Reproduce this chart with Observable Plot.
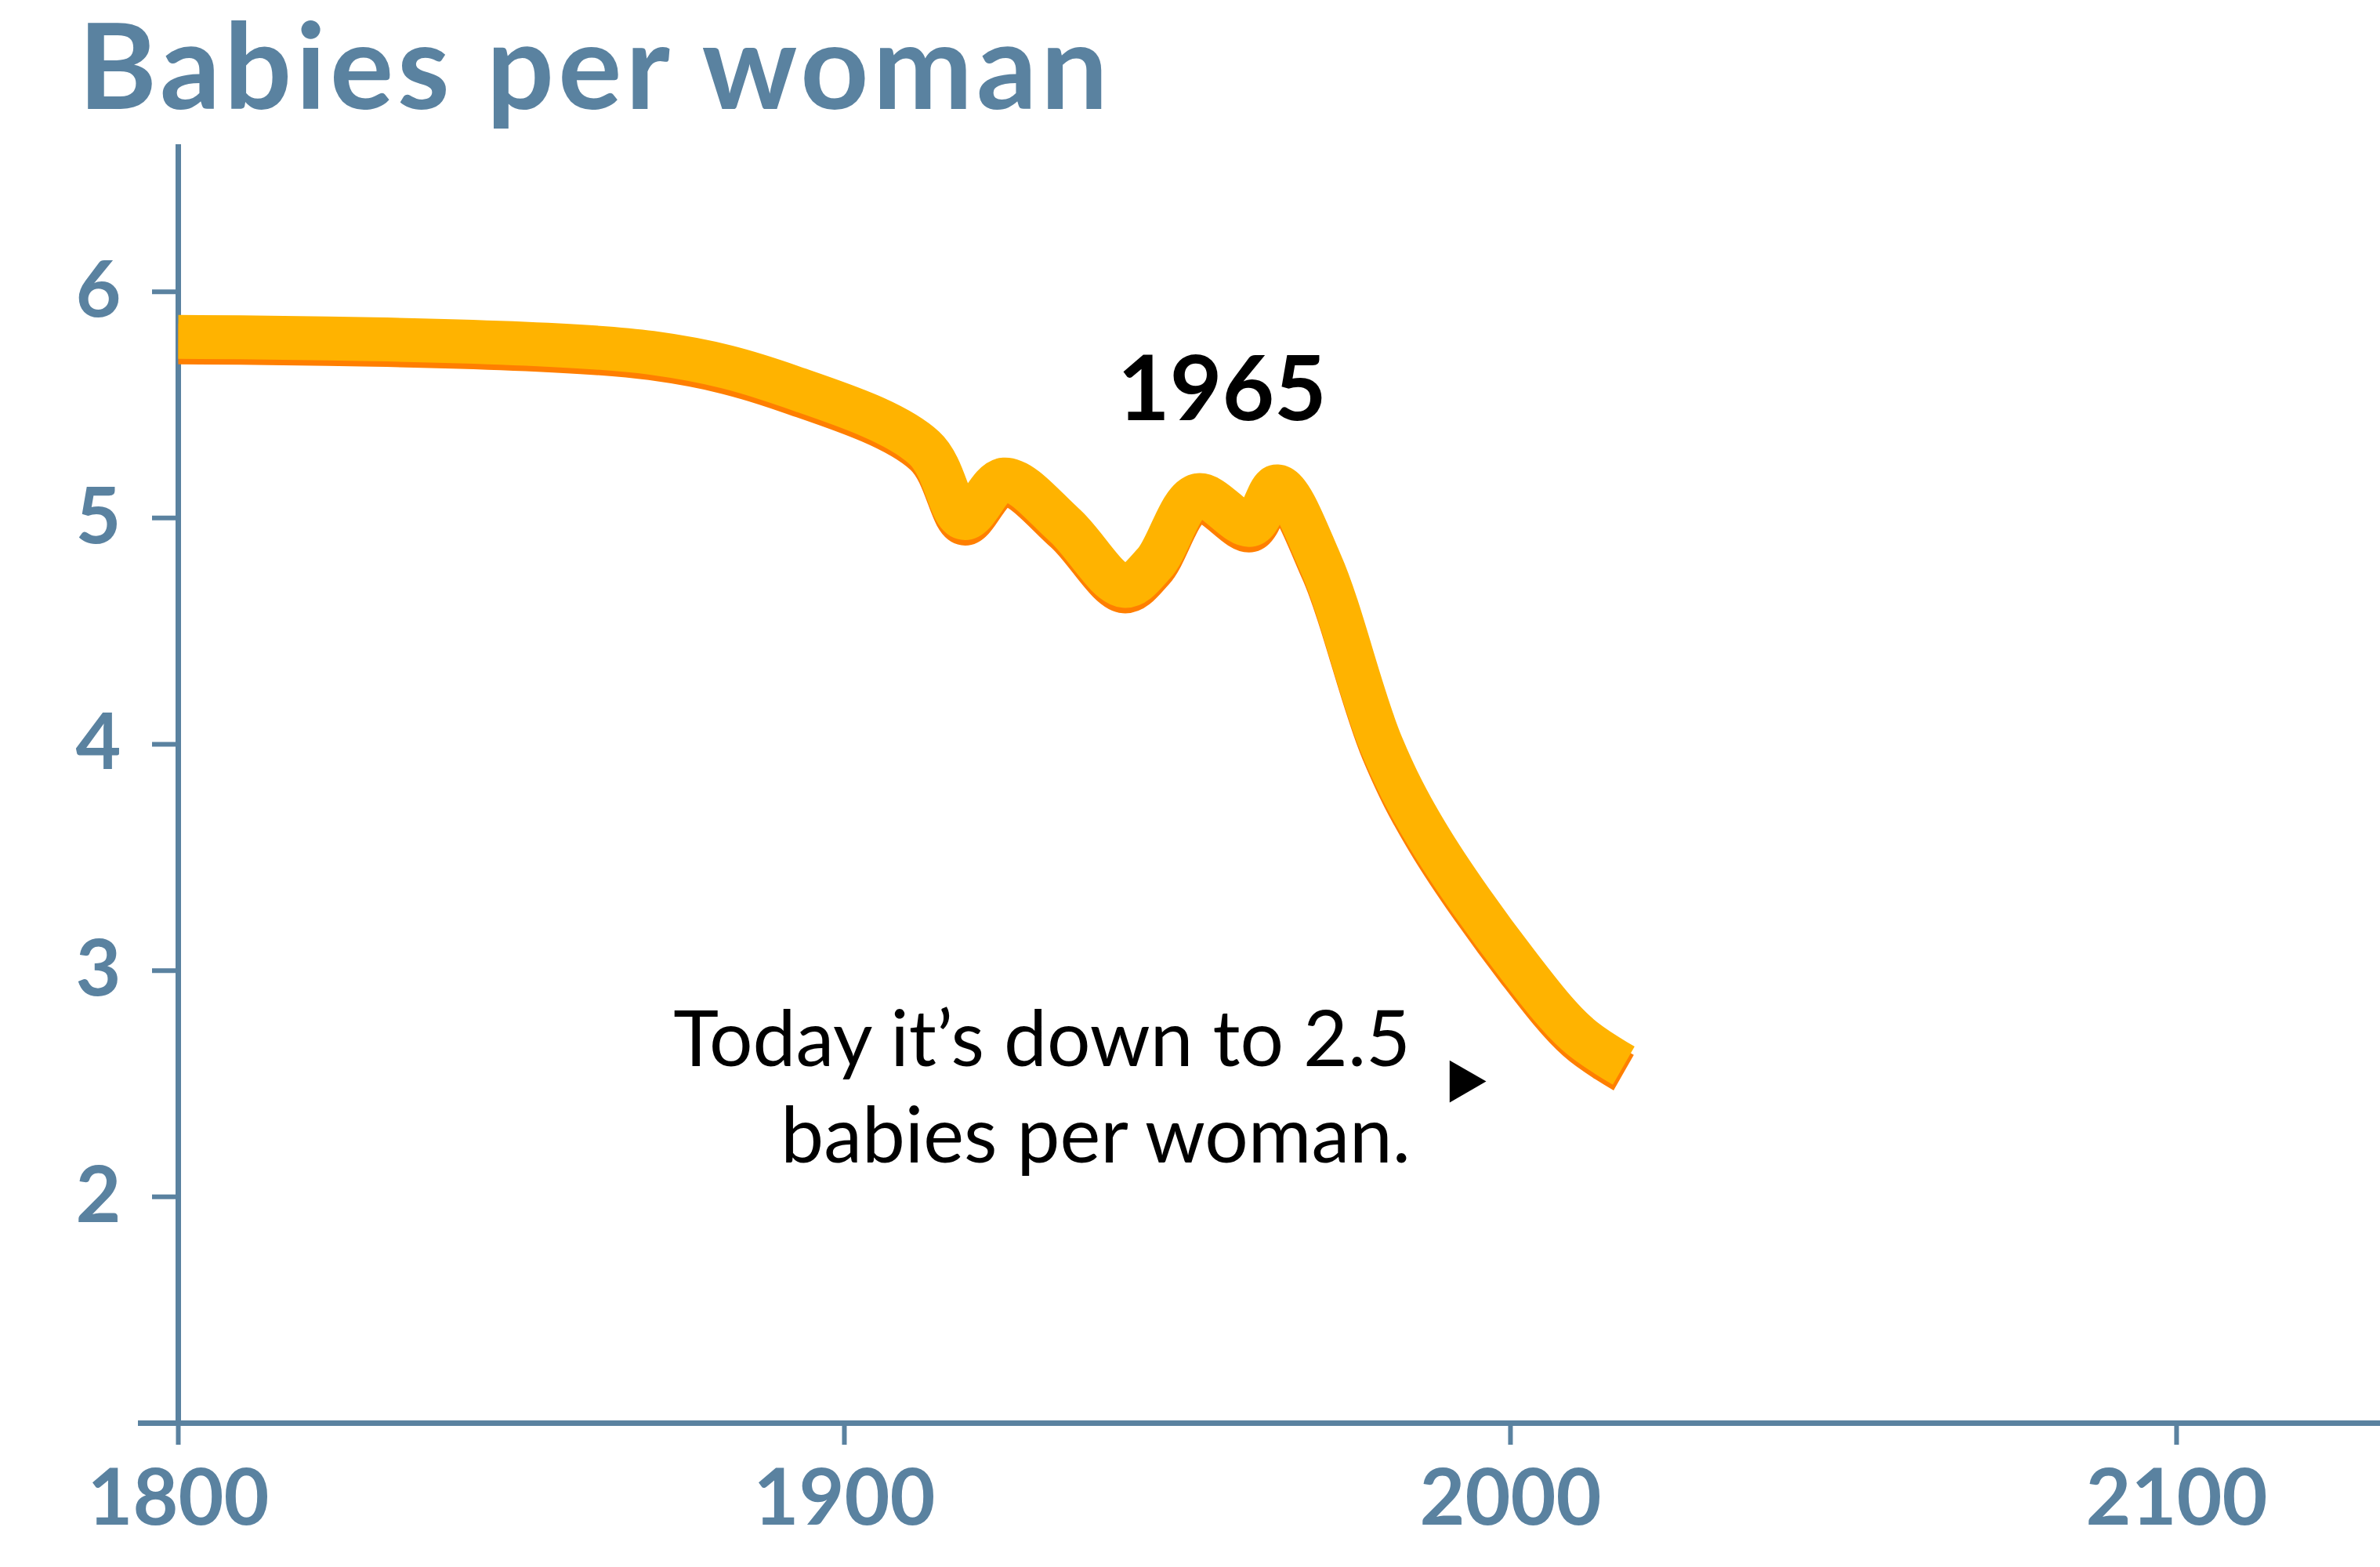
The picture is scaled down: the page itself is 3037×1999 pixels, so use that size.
<!DOCTYPE html>
<html><head><meta charset="utf-8">
<script src="https://cdn.jsdelivr.net/npm/d3@7"></script>
<script src="https://cdn.jsdelivr.net/npm/@observablehq/plot@0.6"></script>
<style>
body{margin:0;background:#fff;font-family:Lato,"Open Sans",sans-serif}
#title{height:179px;font-size:152px;font-weight:700;color:#5a82a0;padding-left:100px;line-height:160px;letter-spacing:5px;overflow:visible}
</style></head>
<body>
<div id="title">Babies per woman</div>
<div id="chart"></div>
<script>
const years = [1800,1871,1892,1912,1918,1924,1933,1942,1946.5,1953,1961,1965,1971.5,1980.6,1987.5,2001,2010,2017];
const babies = [5.8,5.73,5.58,5.31,5.0,5.17,4.97,4.7,4.8,5.1,4.97,5.14,4.8,4.0,3.6,3.03,2.72,2.58];
const yTicks = [2,3,4,5,6];
const xTicks = [1800,1900,2000,2100];

const data = years.map((y,i) => ({year:y, value:babies[i]}));
const blue = "#5a82a0";

const chart = Plot.plot({
  width: 3037, height: 1820,
  marginLeft: 227, marginRight: 0, marginTop: 5, marginBottom: 184,
  style: {fontFamily: "Lato, sans-serif", background: "white"},
  x: {domain: [1800, 2130.6]},
  y: {domain: [1, 6.65]},
  marks: [
    Plot.ruleY([1], {x1: 1794, x2: 2130.6, stroke: blue, strokeWidth: 7}),
    Plot.ruleX([1800], {y1: 1, y2: 6.65, stroke: blue, strokeWidth: 7}),
    Plot.axisX({ticks: xTicks, tickFormat: d => String(d), tickSize: 28, tickPadding: 30,
      stroke: blue, strokeWidth: 6, fill: blue, fontSize: 100, fontWeight: 700, label: null}),
    Plot.axisY({ticks: yTicks, tickFormat: d => String(d), tickSize: 33, tickPadding: 40, stroke: blue, strokeWidth: 6,
      fill: blue, fontSize: 100, fontWeight: 700, label: null}),
    Plot.line(data, {x: "year", y: "value", stroke: "#ff7f00", strokeWidth: 52, dy: 9, strokeLinecap: "butt", curve: "catmull-rom"}),
    Plot.line(data, {x: "year", y: "value", stroke: "#ffb300", strokeWidth: 56, strokeLinecap: "butt", curve: "catmull-rom"}),
    Plot.text(["1965"], {x: 1956.7, y: 5.56, fontSize: 115, fontWeight: 700, fill: "black", letterSpacing: 3}),
    Plot.text(["Today it’s down to 2.5\nbabies per woman."], {x: 1985, y: 2.5, textAnchor: "end",
      fontSize: 98, lineHeight: 1.25, fill: "black", style: "letter-spacing:4px"}),
    Plot.dot([0], {x: 1992.7, y: 2.51, symbol: "triangle", r: 20, rotate: 90, fill: "black"})
  ]
});
document.getElementById("chart").append(chart);
</script>
</body></html>
